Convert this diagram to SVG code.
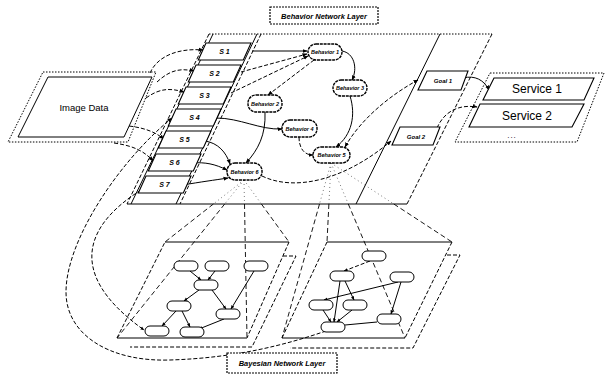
<svg xmlns="http://www.w3.org/2000/svg" width="605" height="376" viewBox="0 0 605 376">
<defs>
<marker id="a" viewBox="0 0 10 10" refX="9" refY="5" markerWidth="5" markerHeight="5" orient="auto-start-reverse"><path d="M0,1 L10,5 L0,9 z" fill="#000"/></marker>
<marker id="b" viewBox="0 0 10 10" refX="9" refY="5" markerWidth="4" markerHeight="4" orient="auto"><path d="M0,1 L10,5 L0,9 z" fill="#000"/></marker>
<style>
.s{fill:none;stroke:#000;stroke-width:1}
.d{fill:none;stroke:#000;stroke-width:1;stroke-dasharray:4 2}
.dt{fill:none;stroke:#000;stroke-width:1;stroke-dasharray:1.5 1.5}
.f{fill:none;stroke:#555;stroke-width:0.8;stroke-dasharray:1 3}
.c{fill:none;stroke:#000;stroke-width:0.9;stroke-dasharray:5 3}
.box{fill:#fff;stroke:#000;stroke-width:1.1}
.pill{fill:#fff;stroke:#000;stroke-width:1.4;stroke-dasharray:3 0.8}
.bn{fill:#fff;stroke:#000;stroke-width:1}
.t{font-family:"Liberation Sans",Arial,sans-serif;fill:#000;text-anchor:middle}
.bi{font-style:italic;font-weight:bold}
</style>
</defs>
<rect width="605" height="376" fill="#fff"/>

<!-- Layer planes -->
<g id="behavior-plane">
<path class="dt" d="M209 34 L492 34"/>
<path class="d" d="M492 34 L407 204"/>
<path class="s" d="M127 204 L407 204"/>
<path class="d" d="M209 34 L127 204"/>
<path class="s" d="M213 34 L131 204"/>
<path class="s" d="M257 34 L176 204"/>
<path class="d" d="M261 34 L180 204"/>
<path class="s" d="M440 34 L356 204"/>
</g>
<g id="bayes-plane-left">
<path class="d" d="M283 256 L296 256 L252 347 L130 347"/>
<path class="s" d="M165 242 L289 242"/>
<path class="d" d="M289 242 L247 338"/>
<path class="s" d="M247 338 L117 338"/>
<path class="d" d="M117 338 L165 242"/>
</g>
<g id="bayes-plane-right">
<path class="d" d="M447 255 L460 255 L413 348 L290 348"/>
<path class="s" d="M327 242 L452 242"/>
<path class="d" d="M452 242 L405 338"/>
<path class="s" d="M405 338 L282 338"/>
<path class="d" d="M282 338 L327 242"/>
</g>

<!-- Connectors -->
<g id="connectors">
<!-- image data to sensors -->
<path class="d" d="M150 73 C158 55,180 48,203 50" marker-end="url(#a)"/>
<path class="d" d="M157 82 C170 70,180 68,194 71" marker-end="url(#a)"/>
<path class="d" d="M146 98 C160 88,170 88,184 92" marker-end="url(#a)"/>
<path class="d" d="M129 126 C145 128,155 132,164 139" marker-end="url(#a)"/>
<path class="d" d="M114 143 C135 146,145 152,153 161" marker-end="url(#a)"/>
<!-- long loops -->
<path class="d" d="M326 331 C285 345,235 358,170 360 C110 362,66 335,66 292 C66 240,120 160,172 118" marker-end="url(#a)"/>
<path class="d" d="M146 187 C90 220,60 270,144 330" marker-end="url(#b)"/>
<!-- sensors to behaviors -->
<path class="s" d="M252 51 L307 51" marker-end="url(#a)"/>
<path class="d" d="M241 72 L307 54" marker-end="url(#a)"/>
<path class="d" d="M231 93 L308 56" marker-end="url(#a)"/>
<path class="s" d="M216 118 C240 118,260 130,282 129" marker-end="url(#a)"/>
<path class="s" d="M205 141 C218 143,226 152,230 164" marker-end="url(#a)"/>
<path class="s" d="M193 163 C205 162,215 164,227 170" marker-end="url(#a)"/>
<path class="s" d="M183 185 C200 182,215 180,228 178" marker-end="url(#a)"/>
<!-- behavior to behavior -->
<path class="d" d="M314 60 L268 95" marker-end="url(#a)"/>
<path class="s" d="M342 51 C354 53,358 68,352 80" marker-end="url(#a)"/>
<path class="s" d="M350 96 C356 115,352 135,336 147" marker-end="url(#a)"/>
<path class="s" d="M265 112 C266 135,258 150,246 163" marker-end="url(#a)"/>
<path class="d" d="M299 137 C299 148,304 155,313 155" marker-end="url(#a)"/>
<!-- behaviors and goals -->
<path class="d" d="M418 80 C390 95,360 120,345 147" marker-start="url(#a)" marker-end="url(#a)"/>
<path class="d" d="M262 176 C295 192,345 180,391 141" marker-end="url(#a)"/>
<!-- goals to services -->
<path class="s" d="M463 78 C475 75,484 80,489 90" marker-end="url(#a)"/>
<path class="d" d="M437 128 C444 112,458 104,477 107" marker-end="url(#a)"/>
<!-- projection cones -->
<path class="f" d="M244 180 L213.4 204 M244 180 L261.4 204 M244 180 L224.7 204 M244 180 L244.5 204"/>
<path class="c" d="M213.4 204 L165 242 M261.4 204 L289 242 M224.7 204 L117 338 M244.5 204 L247 338"/>
<path class="f" d="M331 163 L328.9 204 M331 163 L393.8 204 M331 163 L319.5 204 M331 163 L348.3 204"/>
<path class="c" d="M328.9 204 L327 242 M393.8 204 L452 242 M319.5 204 L282 338 M348.3 204 L405 338"/>
<!-- left bayesian edges -->
<path class="s" d="M190 271 L201 280" marker-end="url(#b)"/>
<path class="s" d="M215 271 L208 280" marker-end="url(#b)"/>
<path class="s" d="M199 290 L184 301" marker-end="url(#b)"/>
<path class="s" d="M212 290 L226 309" marker-end="url(#b)"/>
<path class="s" d="M254 271 L231 309" marker-end="url(#b)"/>
<path class="s" d="M176 311 L162 326" marker-end="url(#b)"/>
<path class="s" d="M182 311 L190 327" marker-end="url(#b)"/>
<path class="s" d="M224 319 L199 329" marker-end="url(#b)"/>
<!-- right bayesian edges -->
<path class="d" d="M370 261 L344 271" marker-end="url(#b)"/>
<path class="s" d="M345 281 L354 300" marker-end="url(#b)"/>
<path class="s" d="M340 281 L334 322" marker-end="url(#b)"/>
<path class="s" d="M398 282 L324 300" marker-end="url(#b)"/>
<path class="s" d="M401 282 L391 314" marker-end="url(#b)"/>
<path class="s" d="M323 310 L331 322" marker-end="url(#b)"/>
<path class="s" d="M352 310 L337 322" marker-end="url(#b)"/>
<path class="s" d="M345 325 L377 322"/>
</g>

<!-- Title labels -->
<g id="title-behavior">
<rect x="270" y="7" width="108" height="17" fill="#fff" stroke="#000" stroke-width="1.2" stroke-dasharray="2 1"/>
<text class="t bi" x="324" y="18.5" font-size="7.5">Behavior Network Layer</text>
</g>
<g id="title-bayesian">
<rect x="227" y="353" width="110" height="20" fill="#fff" stroke="#000" stroke-width="1.2" stroke-dasharray="2 1"/>
<text class="t bi" x="282" y="366" font-size="7.5">Bayesian Network Layer</text>
</g>

<!-- Image data -->
<g id="image-data">
<path class="dt" d="M43 72 L156 72 L128 142 L8 142 Z" stroke-width="1.3"/>
<path class="s" d="M48 77 L152 77 L124 137 L18 137 Z"/>
<text class="t" x="84" y="111" font-size="9.5">Image Data</text>
</g>

<!-- Sensors -->
<g id="s1"><path class="box" d="M206 43 L251 43 L243.3 60 L198.3 60 Z"/><text class="t bi" x="224.5" y="54" font-size="7">S 1</text></g>
<g id="s2"><path class="box" d="M196 65 L241 65 L233.3 82 L188.3 82 Z"/><text class="t bi" x="214.5" y="76" font-size="7">S 2</text></g>
<g id="s3"><path class="box" d="M186 87 L231 87 L223.3 104 L178.3 104 Z"/><text class="t bi" x="204.5" y="98" font-size="7">S 3</text></g>
<g id="s4"><path class="box" d="M176 109 L221 109 L213.3 126 L168.3 126 Z"/><text class="t bi" x="194.5" y="120" font-size="7">S 4</text></g>
<g id="s5"><path class="box" d="M166 131 L211 131 L203.3 148 L158.3 148 Z"/><text class="t bi" x="184.5" y="142" font-size="7">S 5</text></g>
<g id="s6"><path class="box" d="M156 154 L201 154 L193.3 171 L148.3 171 Z"/><text class="t bi" x="174.5" y="165" font-size="7">S 6</text></g>
<g id="s7"><path class="box" d="M146 176 L191 176 L183.3 193 L138.3 193 Z"/><text class="t bi" x="164.5" y="187" font-size="7">S 7</text></g>

<!-- Behaviors -->
<g id="behavior1"><rect class="pill" x="308" y="44" width="34" height="16" rx="8"/><text class="t bi" x="325" y="54" font-size="5.5">Behavior 1</text></g>
<g id="behavior2"><rect class="pill" x="248" y="95" width="34" height="17" rx="8"/><text class="t bi" x="265" y="105.5" font-size="5.5">Behavior 2</text></g>
<g id="behavior3"><rect class="pill" x="333" y="80" width="34" height="16" rx="8"/><text class="t bi" x="350" y="90" font-size="5.5">Behavior 3</text></g>
<g id="behavior4"><rect class="pill" x="282" y="120" width="35" height="17" rx="8"/><text class="t bi" x="299.5" y="130.5" font-size="5.5">Behavior 4</text></g>
<g id="behavior5"><rect class="pill" x="313" y="147" width="37" height="16" rx="8"/><text class="t bi" x="331.5" y="157" font-size="5.5">Behavior 5</text></g>
<g id="behavior6"><rect class="pill" x="227" y="163" width="35" height="17" rx="8"/><text class="t bi" x="244.5" y="173.5" font-size="5.5">Behavior 6</text></g>

<!-- Goals -->
<g id="goal1"><path class="box" d="M427 71 L468 71 L461 90 L418 90 Z"/><text class="t bi" x="443" y="83" font-size="6">Goal 1</text></g>
<g id="goal2"><path class="box" d="M400 127 L440 127 L433 145 L392 145 Z"/><text class="t bi" x="416" y="138.5" font-size="6">Goal 2</text></g>

<!-- Services -->
<g id="services">
<path class="dt" d="M490 73 L604 73 L577 142 L455 142 Z" stroke-width="1.3"/>
<text class="t" x="512" y="138" font-size="8" letter-spacing="1">...</text>
</g>
<g id="service1"><path class="box" d="M494 78 L594 78 L584 100 L483 100 Z"/><text class="t" x="537" y="93" font-size="12">Service 1</text></g>
<g id="service2"><path class="box" d="M480 104 L584 104 L572 127 L469 127 Z"/><text class="t" x="527" y="120" font-size="12">Service 2</text></g>

<!-- Bayesian nodes left -->
<g id="n1"><rect class="bn" x="174" y="261" width="24" height="10" rx="5"/></g>
<g id="n2"><rect class="bn" x="205" y="261" width="24" height="10" rx="5"/></g>
<g id="n3"><rect class="bn" x="244" y="261" width="24" height="10" rx="5"/></g>
<g id="n4"><rect class="bn" x="194" y="280" width="24" height="10" rx="5"/></g>
<g id="n5"><rect class="bn" x="167" y="301" width="24" height="10" rx="5"/></g>
<g id="n6"><rect class="bn" x="216" y="309" width="24" height="10" rx="5"/></g>
<g id="n7"><rect class="bn" x="145" y="326" width="24" height="10" rx="5"/></g>
<g id="n8"><rect class="bn" x="180" y="327" width="24" height="10" rx="5"/></g>

<!-- Bayesian nodes right -->
<g id="m1"><rect class="bn" x="362" y="251" width="24" height="10" rx="5"/></g>
<g id="m2"><rect class="bn" x="330" y="271" width="24" height="10" rx="5"/></g>
<g id="m3"><rect class="bn" x="390" y="272" width="24" height="10" rx="5"/></g>
<g id="m4"><rect class="bn" x="309" y="300" width="24" height="10" rx="5"/></g>
<g id="m5"><rect class="bn" x="343" y="300" width="24" height="10" rx="5"/></g>
<g id="m6"><rect class="bn" x="377" y="314" width="24" height="10" rx="5"/></g>
<g id="m7"><rect class="bn" x="321" y="322" width="24" height="10" rx="5"/></g>
</svg>
